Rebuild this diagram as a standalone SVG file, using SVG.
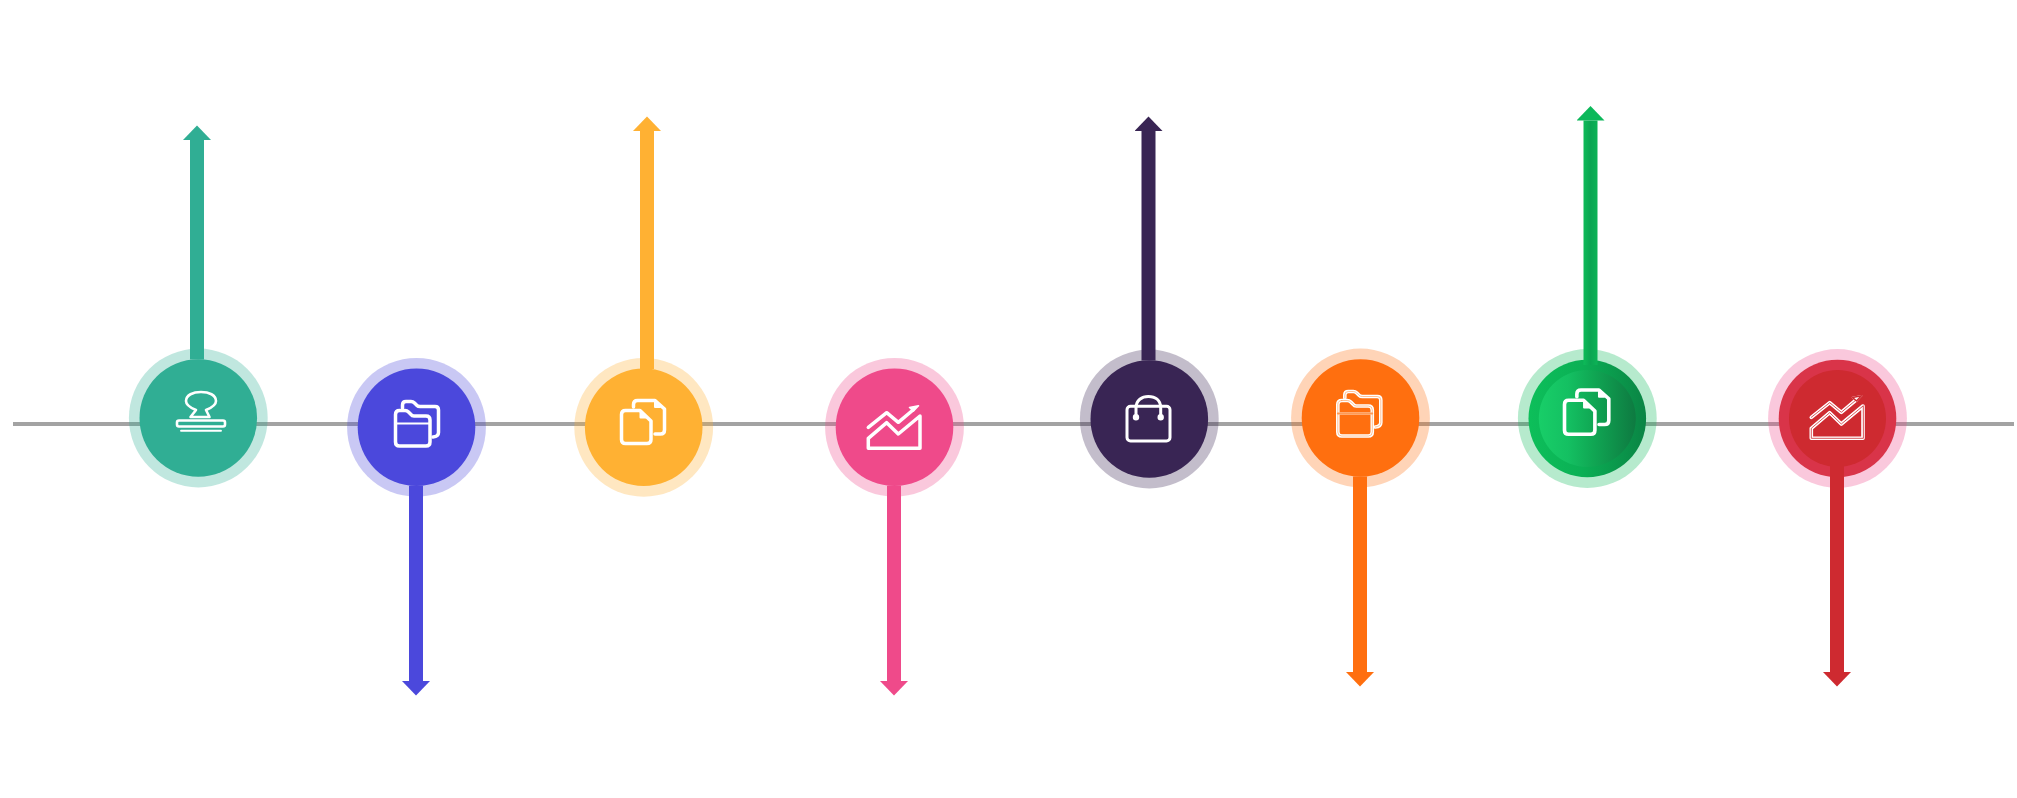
<svg xmlns="http://www.w3.org/2000/svg" width="2017" height="798" viewBox="0 0 2017 798">
<style>
.ring{stroke:none;opacity:.3}
.ic{fill:none;stroke:#fff;stroke-width:3.5;stroke-linejoin:round;stroke-linecap:round}
.thin{stroke-width:2.6}
.arrow{fill:none;stroke-width:14}
#baseline{stroke:#a3a3a3;stroke-width:4;fill:none}
</style>
<defs>
<linearGradient id="gOuter" x1="0" y1="0" x2="1" y2="0"><stop offset="0" stop-color="#0dbf5a"/><stop offset=".45" stop-color="#0bb055"/><stop offset="1" stop-color="#0a8444"/></linearGradient>
<linearGradient id="gInner" x1="0" y1="0" x2="1" y2="0"><stop offset="0" stop-color="#18ce68"/><stop offset=".3" stop-color="#14c062"/><stop offset=".55" stop-color="#10a854"/><stop offset="1" stop-color="#0e7a41"/></linearGradient>
<linearGradient id="gShaft" gradientUnits="userSpaceOnUse" x1="1583.5" y1="0" x2="1597.5" y2="0"><stop offset="0" stop-color="#0dbb58"/><stop offset=".5" stop-color="#0ba552"/><stop offset="1" stop-color="#0cb356"/></linearGradient>
<marker id="mTeal" markerUnits="userSpaceOnUse" markerWidth="15" markerHeight="28" refX="0" refY="14" orient="auto"><path d="M0 0L14.5 14L0 28Z" fill="#30ae94"/></marker>
<marker id="mBlue" markerUnits="userSpaceOnUse" markerWidth="15" markerHeight="28" refX="0" refY="14" orient="auto"><path d="M0 0L14.5 14L0 28Z" fill="#4b48dc"/></marker>
<marker id="mAmber" markerUnits="userSpaceOnUse" markerWidth="15" markerHeight="28" refX="0" refY="14" orient="auto"><path d="M0 0L14.5 14L0 28Z" fill="#ffb133"/></marker>
<marker id="mPink" markerUnits="userSpaceOnUse" markerWidth="15" markerHeight="28" refX="0" refY="14" orient="auto"><path d="M0 0L14.5 14L0 28Z" fill="#ef4a8a"/></marker>
<marker id="mPurple" markerUnits="userSpaceOnUse" markerWidth="15" markerHeight="28" refX="0" refY="14" orient="auto"><path d="M0 0L14.5 14L0 28Z" fill="#392554"/></marker>
<marker id="mOrange" markerUnits="userSpaceOnUse" markerWidth="15" markerHeight="28" refX="0" refY="14" orient="auto"><path d="M0 0L14.5 14L0 28Z" fill="#ff6f0f"/></marker>
<marker id="mGreen" markerUnits="userSpaceOnUse" markerWidth="15" markerHeight="28" refX="0" refY="14" orient="auto"><path d="M0 0L14.5 14L0 28Z" fill="#0cb85a"/></marker>
<marker id="mRed" markerUnits="userSpaceOnUse" markerWidth="15" markerHeight="28" refX="0" refY="14" orient="auto"><path d="M0 0L14.5 14L0 28Z" fill="#ce2a30"/></marker>
<g id="folder">
<path d="M402.5 408V405Q402.5 401.5 406 401.5H411Q413 401.5 414.5 403L417 405.5Q418 406.5 420 406.5H435Q438.5 406.5 438.5 410V432.5Q438.5 436.5 433 437"/>
<path d="M399.5 410.5H405Q407 410.5 408.5 412L411 414.5Q412 416 414 416H426Q430 416 430 420V442Q430 446 426 446H399.5Q395.5 446 395.5 442V414.5Q395.5 410.5 399.5 410.5Z"/>
<path d="M395.5 423.5H430" stroke-width="1.8"/>
</g>
<g id="docs">
<path d="M625.5 410.5H640L651 421V439.5Q651 443.5 647 443.5H625.5Q621.5 443.5 621.5 439.5V414.5Q621.5 410.5 625.5 410.5Z"/>
<path d="M640.5 412.5V417.5H646Z" stroke-width="2" fill="#fff"/>
<path d="M633.5 407V404.5Q633.5 400.5 637.5 400.5H655L664.5 409V430Q664.5 434 660.5 434H655"/>
<path d="M655 402.5V407H660Z" stroke-width="2" fill="#fff"/>
</g>
<g id="chart">
<path d="M868.3 427.3L886.7 412.7L898.3 422.3L913 410"/>
<path d="M909.5 407.5L918.5 405.8L913.5 411Z" stroke-width="1.6" fill="#fff"/>
<path d="M920 416L898.3 434L886.7 422.7L868.3 438.3V448.3H920Z"/>
</g>
</defs>
<rect width="2017" height="798" fill="#fff"/>
<path id="baseline" d="M13 424H2014"/>

<g id="node-1">
<circle class="ring" cx="198.3" cy="418" r="69.4" fill="#30ae94"/>
<circle cx="198.3" cy="418" r="58.8" fill="#30ae94"/>
<g class="ic thin">
<path d="M196 410C191 408 186 405 186 401C186 395 193 392 201 392C209 392 216 395 216 401C216 405 211 408 206 410L209.5 417H190.5Z"/>
<rect x="177" y="420.5" width="48" height="6" rx="2"/>
<path d="M181 430.7H221" stroke-width="1.9"/>
</g>
</g>
<g id="node-2">
<circle class="ring" cx="416.5" cy="427.3" r="69.4" fill="#4b48dc"/>
<circle cx="416.5" cy="427.3" r="58.8" fill="#4b48dc"/>
<use href="#folder" class="ic"/>
</g>
<g id="node-3">
<circle class="ring" cx="643.7" cy="427.3" r="69.4" fill="#ffb133"/>
<circle cx="643.7" cy="427.3" r="58.8" fill="#ffb133"/>
<use href="#docs" class="ic"/>
</g>
<g id="node-4">
<circle class="ring" cx="894.5" cy="427.3" r="69.4" fill="#ef4a8a"/>
<circle cx="894.5" cy="427.3" r="58.8" fill="#ef4a8a"/>
<use href="#chart" class="ic"/>
</g>
<g id="node-5">
<circle class="ring" cx="1149.3" cy="419" r="69.4" fill="#392554"/>
<circle cx="1149.3" cy="419" r="58.8" fill="#392554"/>
<g class="ic" style="stroke-width:3">
<rect x="1127" y="406.3" width="43" height="34.7" rx="3.5"/>
<path d="M1136 417V408C1136 400 1142 396.5 1148.4 396.5C1155 396.5 1160.7 400 1160.7 408V417"/>
<circle cx="1136" cy="417.3" r="1.7" fill="#fff"/>
<circle cx="1160.7" cy="417.3" r="1.7" fill="#fff"/>
</g>
</g>
<g id="node-6">
<circle class="ring" cx="1360.5" cy="418" r="69.4" fill="#ff6f0f"/>
<circle cx="1360.5" cy="418" r="58.8" fill="#ff6f0f"/>
<g transform="translate(942.3 -10)">
<use href="#folder" class="ic" style="stroke-width:3.6"/>
<use href="#folder" class="ic" style="stroke:#ff9a55;stroke-width:.6"/>
</g>
</g>
<g id="node-7">
<circle class="ring" cx="1587.3" cy="418.5" r="69.4" fill="#0cb858"/>
<circle cx="1587.3" cy="418.5" r="58.8" fill="url(#gOuter)"/>
<circle cx="1587.3" cy="418.5" r="48.5" fill="url(#gInner)"/>
<use href="#docs" class="ic" transform="translate(1564.5 390) scale(1.03) translate(-621.5 -400.5)"/>
</g>
<g id="node-8">
<circle class="ring" cx="1837.5" cy="418.5" r="69.4" fill="#ef4a8a"/>
<circle cx="1837.5" cy="418.5" r="58.8" fill="#d93449"/>
<circle cx="1837.5" cy="418.5" r="48.5" fill="#ce2a30"/>
<g transform="translate(943 -10)">
<use href="#chart" class="ic" style="stroke-width:3.6"/>
<use href="#chart" class="ic" style="stroke:#ce2a30;stroke-width:.8"/>
</g>
</g>

<g id="connectors">
<path class="arrow" stroke="#30ae94" d="M197 359.6V140" marker-end="url(#mTeal)"/>
<path class="arrow" stroke="#4b48dc" d="M416 485.7V681" marker-end="url(#mBlue)"/>
<path class="arrow" stroke="#ffb133" d="M647 368.9V131" marker-end="url(#mAmber)"/>
<path class="arrow" stroke="#ef4a8a" d="M894 485.7V681" marker-end="url(#mPink)"/>
<path class="arrow" stroke="#392554" d="M1148.5 360.6V131" marker-end="url(#mPurple)"/>
<path class="arrow" stroke="#ff6f0f" d="M1360 476.4V672" marker-end="url(#mOrange)"/>
<path class="arrow" stroke="url(#gShaft)" d="M1590.5 365V120.5" marker-end="url(#mGreen)"/>
<path class="arrow" stroke="#ce2a30" d="M1837 466V672" marker-end="url(#mRed)"/>
</g>
</svg>
